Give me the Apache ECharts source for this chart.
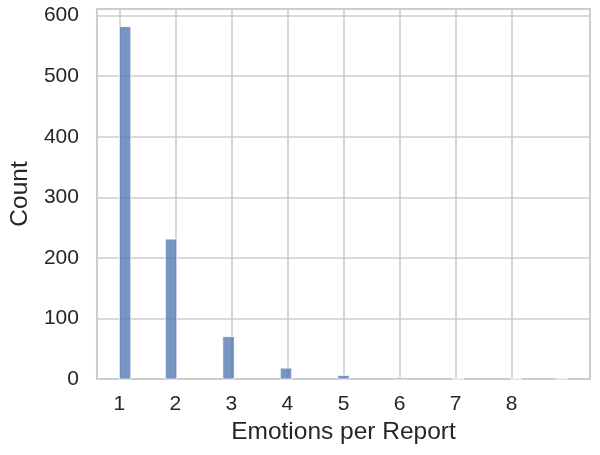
<!DOCTYPE html>
<html>
<head>
<meta charset="utf-8">
<script src="https://cdn.jsdelivr.net/npm/echarts@6/dist/echarts.min.js"></script>
<style>
  html, body { margin: 0; padding: 0; background: #ffffff; }
  #chart { width: 600px; height: 455px; }
</style>
</head>
<body>
<div id="chart"></div>
<script>
// Emotions per report (integer values) and the number of reports for each
const emotionValues = [1, 2, 3, 4, 5, 6, 7, 8, 9];
const reportCounts = [582, 231, 70, 18, 6, 2, 1, 1, 1];
// Histogram binning used by the reference (auto bins over the data range)
const binRange = [1, 9];
const binCount = 39;
const xTickValues = [1, 2, 3, 4, 5, 6, 7, 8];
const yTickInterval = 100;

const binWidth = (binRange[1] - binRange[0]) / binCount;
const bins = emotionValues.map((v, i) => {
  const k = Math.min(Math.floor((v - binRange[0]) / binWidth), binCount - 1);
  const lo = binRange[0] + k * binWidth;
  return [lo, lo + binWidth, reportCounts[i]];
});

const textColor = '#262626';
const gridColor = '#cccccc';
const fontFamily = 'Liberation Sans, Arial, sans-serif';

const chart = echarts.init(document.getElementById('chart'), null, { renderer: 'canvas' });
chart.setOption({
  animation: false,
  backgroundColor: '#ffffff',
  grid: {
    left: 94, right: 10, top: 9, bottom: 76,
    show: true, borderColor: gridColor, borderWidth: 2, backgroundColor: 'transparent'
  },
  xAxis: {
    type: 'value',
    min: 0.6,
    max: 9.4,
    name: 'Emotions per Report',
    nameLocation: 'middle',
    nameGap: 40,
    nameTextStyle: { fontSize: 24.5, color: textColor, fontFamily: fontFamily },
    axisLine: { show: false },
    axisTick: { show: false, customValues: xTickValues },
    axisLabel: {
      customValues: xTickValues,
      fontSize: 21, color: textColor, fontFamily: fontFamily, margin: 15
    },
    splitLine: { show: true, lineStyle: { color: gridColor, width: 1.6 } }
  },
  yAxis: {
    type: 'value',
    min: 0,
    max: 611,
    interval: yTickInterval,
    name: 'Count',
    nameLocation: 'middle',
    nameGap: 58,
    nameRotate: 90,
    nameTextStyle: { fontSize: 24.5, color: textColor, fontFamily: fontFamily },
    axisLine: { show: false },
    axisTick: { show: false },
    axisLabel: {
      fontSize: 21, color: textColor, fontFamily: fontFamily, margin: 18,
      padding: [6, 0, 0, 0],
      showMaxLabel: false,
      formatter: v => (v % yTickInterval === 0 ? String(v) : '')
    },
    splitLine: { show: true, lineStyle: { color: gridColor, width: 1.6 } }
  },
  series: [{
    type: 'custom',
    data: bins,
    encode: { x: [0, 1], y: 2 },
    renderItem: function (params, api) {
      const p0 = api.coord([api.value(0), api.value(2)]);
      const p1 = api.coord([api.value(1), 0]);
      return {
        type: 'rect',
        shape: { x: p0[0], y: p0[1], width: p1[0] - p0[0], height: p1[1] - p0[1] },
        style: { fill: 'rgba(76,114,176,0.75)', stroke: '#ffffff', lineWidth: 0.8 }
      };
    }
  }]
});
</script>
</body>
</html>
